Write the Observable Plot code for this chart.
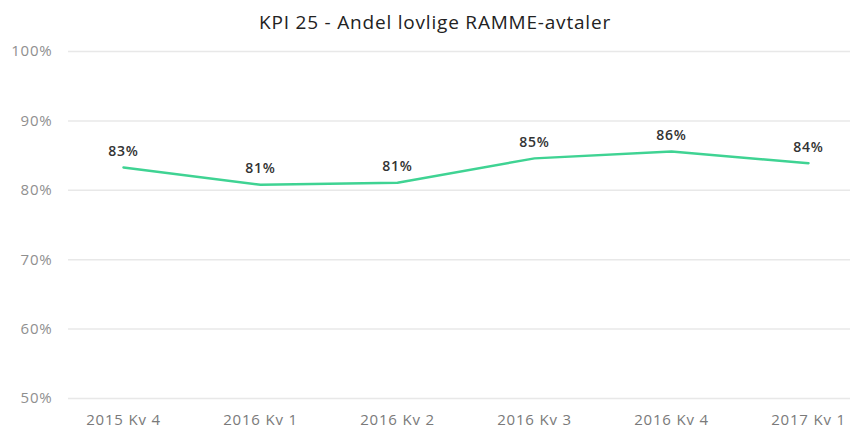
<!DOCTYPE html>
<html>
<head>
<meta charset="utf-8">
<script src="https://cdn.jsdelivr.net/npm/d3@7"></script>
<script src="https://cdn.jsdelivr.net/npm/@observablehq/plot@0.6"></script>
<style>
  body { margin: 0; background: #fff; font-family: "Open Sans", sans-serif; }
  #title { height: 36px; line-height: 44px; text-align: center; font-size: 19px; letter-spacing: 0.8px; color: #222; padding-left: 20px; }
  #chart svg text { letter-spacing: 0.8px; }
</style>
</head>
<body>
<div id="title">KPI 25 - Andel lovlige RAMME-avtaler</div>
<div id="chart"></div>
<script>
const quarters = ["2015 Kv 4", "2016 Kv 1", "2016 Kv 2", "2016 Kv 3", "2016 Kv 4", "2017 Kv 1"];
const values = [83.3, 80.8, 81.1, 84.6, 85.6, 83.9];
const yTicks = [50, 60, 70, 80, 90, 100];

const data = quarters.map((q, i) => ({q, v: values[i]}));

const plot = Plot.plot({
  width: 850,
  height: 392,
  marginLeft: 68,
  marginRight: 0,
  marginTop: 15,
  marginBottom: 30,
  style: { fontFamily: "Open Sans, sans-serif", background: "#fff" },
  x: { type: "point", domain: quarters, insetLeft: 54, insetRight: 42, padding: 0, label: null },
  y: { domain: [50, 100], label: null },
  marks: [
    Plot.ruleY(yTicks, { stroke: "#e8e8e8", strokeWidth: 1.5 }),
    Plot.axisY({ ticks: yTicks, tickSize: 0, tickPadding: 16, tickFormat: d => d + "%", fontSize: 15, fill: "#8f8f8f", label: null }),
    Plot.axisX({ tickSize: 0, tickPadding: 16, fontSize: 15, fill: "#7a7a7a", label: null }),
    Plot.line(data, { x: "q", y: "v", stroke: "#3fd393", strokeWidth: 2.5 }),
    Plot.text(data, { x: "q", y: "v", text: d => Math.round(d.v) + "%", dy: -16, fontSize: 14, fontWeight: 600, fill: "#333" })
  ]
});
document.getElementById("chart").appendChild(plot);
</script>
</body>
</html>
